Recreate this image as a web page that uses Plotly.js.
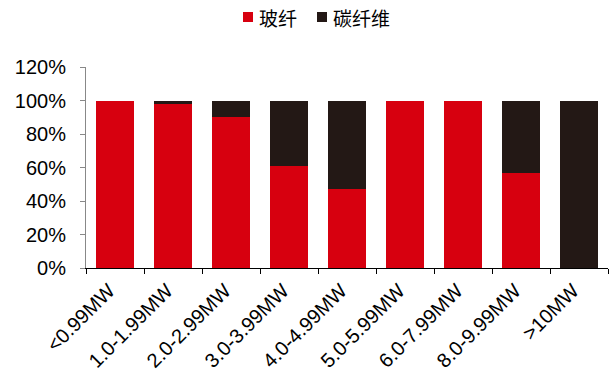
<!DOCTYPE html>
<html>
<head>
<meta charset="utf-8">
<script src="https://cdn.plot.ly/plotly-3.0.1.min.js"></script>
<style>html,body{margin:0;padding:0;background:#fff;}#chart{width:611px;height:379px;}</style>
</head>
<body>
<div id="chart"></div>
<script>
const categories = ["<0.99MW","1.0-1.99MW","2.0-2.99MW","3.0-3.99MW","4.0-4.99MW","5.0-5.99MW","6.0-7.99MW","8.0-9.99MW",">10MW"];
const glassFiber = [100, 98, 90, 61, 47, 100, 100, 57, 0];
const carbonFiber = [0, 2, 10, 39, 53, 0, 0, 43, 100];
const seriesNames = ["玻纤", "碳纤维"];
const seriesColors = ["#D7000F", "#231815"];
const yTickVals = [0, 20, 40, 60, 80, 100, 120];
const yTickText = ["0%", "20%", "40%", "60%", "80%", "100%", "120%"];

const data = [
  {type: "bar", x: categories, y: glassFiber, name: seriesNames[0],
   marker: {color: seriesColors[0], line: {width: 0}}},
  {type: "bar", x: categories, y: carbonFiber, name: seriesNames[1],
   marker: {color: seriesColors[1], line: {width: 0}}}
];

// manual legend (plot area: x 86..608, y 67..268)
const legX = [(248 - 86) / 522, (322 - 86) / 522];
const legY = (268 - 17) / 201;
const shapes = legX.map((x, i) => ({
  type: "rect", xref: "paper", yref: "paper", xsizemode: "pixel", ysizemode: "pixel",
  xanchor: x, yanchor: legY, x0: -5, x1: 5, y0: -5, y1: 5,
  fillcolor: seriesColors[i], line: {width: 0}
}));
const annotations = legX.map((x, i) => ({
  xref: "paper", yref: "paper", x: x + 9 / 522, y: legY, xanchor: "left", yanchor: "middle",
  text: seriesNames[i], showarrow: false,
  font: {family: "Noto Sans CJK SC, sans-serif", size: 19, color: "#000"}
}));

const layout = {
  width: 611, height: 379,
  margin: {l: 86, r: 3, t: 67, b: 111},
  barmode: "stack",
  bargap: 0.34,
  paper_bgcolor: "#fff", plot_bgcolor: "#fff",
  font: {family: "Liberation Sans, Arial, sans-serif", color: "#000", size: 20},
  showlegend: false,
  shapes: shapes,
  annotations: annotations,
  xaxis: {type: "category", tickson: "boundaries", ticks: "outside", ticklen: 5, tickcolor: "#000",
          showline: true, linecolor: "#000", linewidth: 1, tickangle: -45,
          tickfont: {size: 20}, ticklabelshift: -6, ticklabelstandoff: 2,
          showgrid: false, zeroline: false, automargin: false},
  yaxis: {range: [0, 120], tickvals: yTickVals, ticktext: yTickText, ticks: "outside", ticklen: 5,
          tickcolor: "#888", showline: true, linecolor: "#888", linewidth: 1,
          ticklabelstandoff: 10,
          showgrid: false, zeroline: false, tickfont: {size: 20}, automargin: false}
};
Plotly.newPlot("chart", data, layout, {displayModeBar: false, staticPlot: true});
</script>
</body>
</html>
